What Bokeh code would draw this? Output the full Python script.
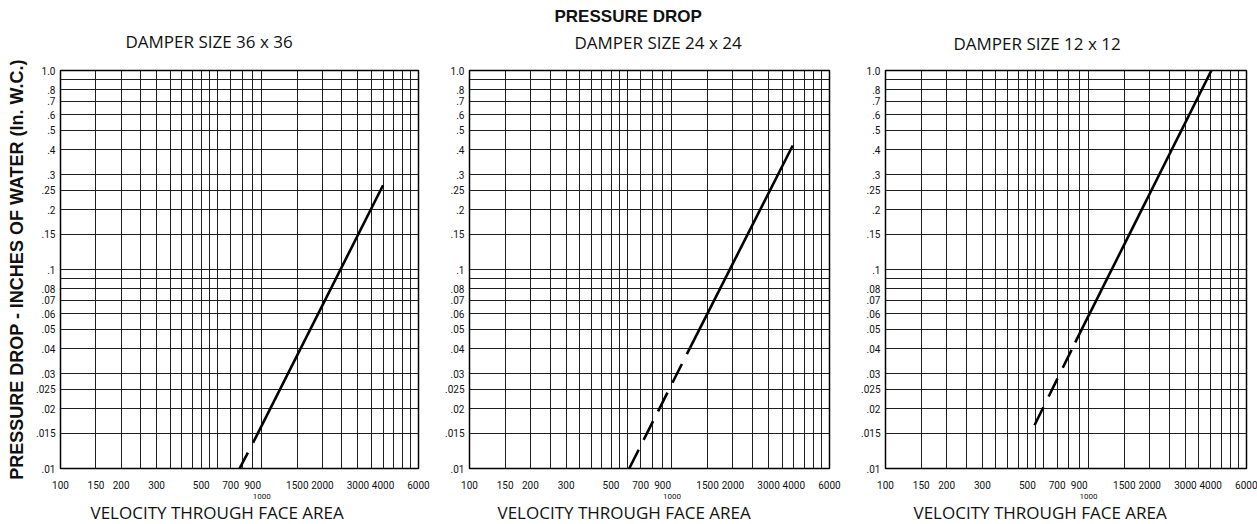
from bokeh.plotting import figure
from bokeh.models import Range1d, FixedTicker, LogAxis, Title, CustomJSTickFormatter
from bokeh.layouts import row
from bokeh.embed import file_html
from bokeh.resources import INLINE

# ---- data ----
velocity_range = [100, 6000]
pressure_range = [0.01, 1.0]
velocity_ticks = [100, 150, 200, 300, 500, 700, 900, 1500, 2000, 3000, 4000, 6000]
velocity_tick_lower = [1000]
velocity_grid = [100, 150, 200, 250, 300, 350, 400, 450, 500, 550, 600, 700, 800, 900,
                 1000, 1500, 2000, 2500, 3000, 3500, 4000, 4500, 5000, 5500, 6000]
pressure_ticks = [1.0, 0.8, 0.7, 0.6, 0.5, 0.4, 0.3, 0.25, 0.2, 0.15, 0.1,
                  0.08, 0.07, 0.06, 0.05, 0.04, 0.03, 0.025, 0.02, 0.015, 0.01]
pressure_grid_extra = [0.9, 0.09]

main_title = "PRESSURE DROP"
panel_titles = ["DAMPER SIZE 36 x 36", "DAMPER SIZE 24 x 24", "DAMPER SIZE 12 x 12"]
y_label = "PRESSURE DROP - INCHES OF WATER (In. W.C.)"
x_label = "VELOCITY THROUGH FACE AREA"

# damper 36 x 36
d36_dash_v = [775, 905]
d36_dash_p = [0.010, 0.0135]
d36_solid_v = [905, 4000]
d36_solid_p = [0.0135, 0.265]
# damper 24 x 24
d24_dash_v = [615, 1230]
d24_dash_p = [0.010, 0.0405]
d24_solid_v = [1230, 3950]
d24_solid_p = [0.0405, 0.42]
# damper 12 x 12
d12_dash_v = [542, 860]
d12_dash_p = [0.0165, 0.043]
d12_solid_v = [860, 4030]
d12_solid_p = [0.043, 1.0]

TICK_FONT = "Roboto"
TXT_FONT = "Open Sans"
BOLD_FONT = "Liberation Sans"
INK = "#111111"

xfmt_code = "return tick.toFixed(0);"
yfmt_code = "return tick >= 1 ? tick.toFixed(1) : String(tick).replace(/^0/, '');"


def bare_axis(ax):
    ax.axis_line_color = None
    ax.major_tick_line_color = None
    ax.minor_tick_line_color = None
    ax.major_tick_out = 0
    ax.major_tick_in = 0
    ax.minor_tick_out = 0
    ax.minor_tick_in = 0


def make_panel(title, title_off, title_gap, xlab_off, dash_v, dash_p, solid_v, solid_p, dash,
               width, left, right, top, bottom, ylabel=None, top_title=None, top_off=0,
               top_gap=0):
    p = figure(width=width, height=524, x_axis_type="log", y_axis_type="log",
               x_range=Range1d(*velocity_range), y_range=Range1d(*pressure_range),
               output_backend="svg", toolbar_location=None,
               min_border_left=left, min_border_right=right,
               min_border_top=top, min_border_bottom=bottom)
    p.background_fill_color = "white"
    p.border_fill_color = "white"
    p.outline_line_color = "black"
    p.outline_line_width = 1.5

    p.xgrid.ticker = FixedTicker(ticks=velocity_grid)
    p.ygrid.ticker = FixedTicker(ticks=pressure_ticks + pressure_grid_extra)
    p.grid.grid_line_color = "#1e1e1e"
    p.grid.grid_line_width = 1
    p.grid.grid_line_alpha = 1

    xa = p.xaxis[0]
    xa.ticker = FixedTicker(ticks=velocity_ticks)
    xa.formatter = CustomJSTickFormatter(code=xfmt_code)
    ya = p.yaxis[0]
    ya.ticker = FixedTicker(ticks=pressure_ticks)
    ya.formatter = CustomJSTickFormatter(code=yfmt_code)
    for ax in (xa, ya):
        bare_axis(ax)
        ax.major_label_text_font = TICK_FONT
        ax.major_label_text_font_size = "10px"
        ax.major_label_text_color = INK
    xa.major_label_standoff = 12
    ya.major_label_standoff = 5
    if ylabel:
        ya.axis_label = ylabel
        ya.axis_label_text_font = BOLD_FONT
        ya.axis_label_text_font_style = "bold"
        ya.axis_label_text_font_size = "18px"
        ya.axis_label_text_color = INK
        ya.axis_label_standoff = 6

    # second row of velocity labels (the lowered "1000")
    ax2 = LogAxis(ticker=FixedTicker(ticks=velocity_tick_lower),
                  formatter=CustomJSTickFormatter(code=xfmt_code),
                  major_label_text_font=TICK_FONT, major_label_text_font_size="8px",
                  major_label_text_color=INK, major_label_standoff=2)
    bare_axis(ax2)
    p.add_layout(ax2, "below")
    p.add_layout(Title(text=x_label, align="left", offset=xlab_off,
                       vertical_align="bottom", standoff=-6,
                       text_font=TXT_FONT, text_font_size="17px",
                       text_font_style="normal", text_color=INK), "below")

    p.line(dash_v, dash_p, line_color="black", line_width=2.6, line_dash=dash)
    p.line(solid_v, solid_p, line_color="black", line_width=2.6)

    p.add_layout(Title(text=title, align="left", offset=title_off,
                       vertical_align="bottom", standoff=title_gap,
                       text_font=TXT_FONT, text_font_size="17px",
                       text_font_style="normal", text_color=INK), "above")
    if top_title:
        p.add_layout(Title(text=top_title, align="left", offset=top_off,
                           vertical_align="bottom", standoff=top_gap,
                           text_font=BOLD_FONT, text_font_size="17px",
                           text_font_style="bold", text_color=INK), "above")
    return p


p1 = make_panel(panel_titles[0], 65, 36, 30, d36_dash_v, d36_dash_p, d36_solid_v, d36_solid_p,
                "18 11", 437, 60, 19, 70, 55, ylabel=y_label)
p2 = make_panel(panel_titles[1], 105, 34, 28, d24_dash_v, d24_dash_p, d24_solid_v, d24_solid_p,
                "21 11", 411, 32, 19, 70, 55, top_title=main_title, top_off=85, top_gap=-29)
p3 = make_panel(panel_titles[2], 68, 31, 28, d12_dash_v, d12_dash_p, d12_solid_v, d12_solid_p,
                "20 12", 409, 37, 11, 67, 56)

layout = row(p1, p2, p3)
open("out.html", "w").write(file_html(layout, INLINE))
